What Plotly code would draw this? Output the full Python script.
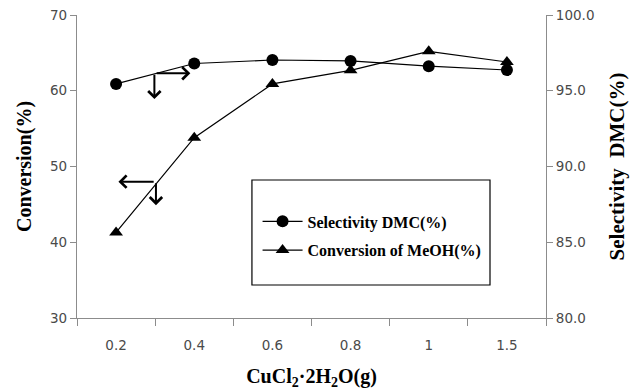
import plotly.graph_objects as go

categories = ["0.2", "0.4", "0.6", "0.8", "1", "1.5"]
selectivity_dmc = [95.45, 96.8, 97.03, 96.97, 96.62, 96.37]
conversion_meoh = [41.3, 53.8, 60.9, 62.7, 65.2, 63.8]

serif = "Liberation Serif, Times New Roman, serif"
tickfont = dict(family="DejaVu Sans, sans-serif", size=13.5, color="#4a4a4a")
axis_color = "#8c8c8c"

fig = go.Figure()
fig.add_trace(go.Scatter(
    x=categories, y=selectivity_dmc, name="Selectivity DMC(%)", yaxis="y2",
    mode="lines+markers", legendgroup="a",
    line=dict(color="black", width=1.2),
    marker=dict(symbol="circle", size=12, color="black"),
))
fig.add_trace(go.Scatter(
    x=categories, y=conversion_meoh, name="Conversion of MeOH(%)", yaxis="y",
    mode="lines+markers", legendgroup="b",
    line=dict(color="black", width=1.2),
    marker=dict(symbol="triangle-up", size=12, color="black"),
))

# direction arrows (which axis each curve belongs to)
arrows = [
    ((0.5, 62.3), (0.95, 62.3)),
    ((0.49, 62.3), (0.49, 58.9)),
    ((0.5, 48.0), (0.03, 48.0)),
    ((0.51, 48.0), (0.51, 44.9)),
]
for (tx, ty), (hx, hy) in arrows:
    fig.add_annotation(
        x=hx, y=hy, ax=tx, ay=ty, xref="x", yref="y", axref="x", ayref="y",
        showarrow=True, arrowhead=4, arrowsize=1.2, arrowwidth=2,
        arrowcolor="black", text="", standoff=0, startstandoff=0,
    )

# legend frame
fig.add_shape(type="rect", xref="paper", yref="paper",
              x0=0.373, x1=0.8806, y0=0.1089, y1=0.4554,
              line=dict(color="black", width=1.2), fillcolor="rgba(0,0,0,0)")

fig.update_layout(
    width=635, height=392,
    margin=dict(l=77, r=89, t=15, b=74),
    paper_bgcolor="white", plot_bgcolor="white",
    showlegend=True,
    legend=dict(
        x=0.385, y=0.375, xanchor="left", yanchor="top",
        bgcolor="rgba(0,0,0,0)", borderwidth=0,
        font=dict(family=serif, size=16, color="black", weight="bold"),
        traceorder="grouped", tracegroupgap=5, itemwidth=40,
    ),
    xaxis=dict(
        type="category", categoryorder="array", categoryarray=categories,
        range=[-0.5, 5.5], tickson="boundaries", ticks="outside", ticklen=7,
        tickcolor=axis_color, showline=True, linecolor=axis_color, linewidth=1.3,
        showgrid=False, zeroline=False, tickfont=tickfont, ticklabelstandoff=15,
        automargin=False,
        title=dict(text="CuCl<sub>2</sub>·2H<sub>2</sub>O(g)",
                   font=dict(family=serif, size=20, color="black", weight="bold"),
                   standoff=16),
    ),
    yaxis=dict(
        range=[30, 70], dtick=10, ticks="outside", ticklen=6, tickcolor=axis_color,
        showline=True, linecolor=axis_color, linewidth=1.3, showgrid=False,
        zeroline=False, tickfont=tickfont, automargin=False,
        title=dict(text="Conversion(%)",
                   font=dict(family=serif, size=20, color="black", weight="bold"),
                   standoff=12),
    ),
    yaxis2=dict(
        range=[80, 100], dtick=5, tickformat=".1f", overlaying="y", side="right",
        ticks="outside", ticklen=6, tickcolor=axis_color,
        showline=True, linecolor=axis_color, linewidth=1.3, showgrid=False,
        zeroline=False, tickfont=tickfont, automargin=False,
        title=dict(text="Selectivity  DMC(%)",
                   font=dict(family=serif, size=21, color="black", weight="bold"),
                   standoff=15),
    ),
)

fig.write_html("out.html")
